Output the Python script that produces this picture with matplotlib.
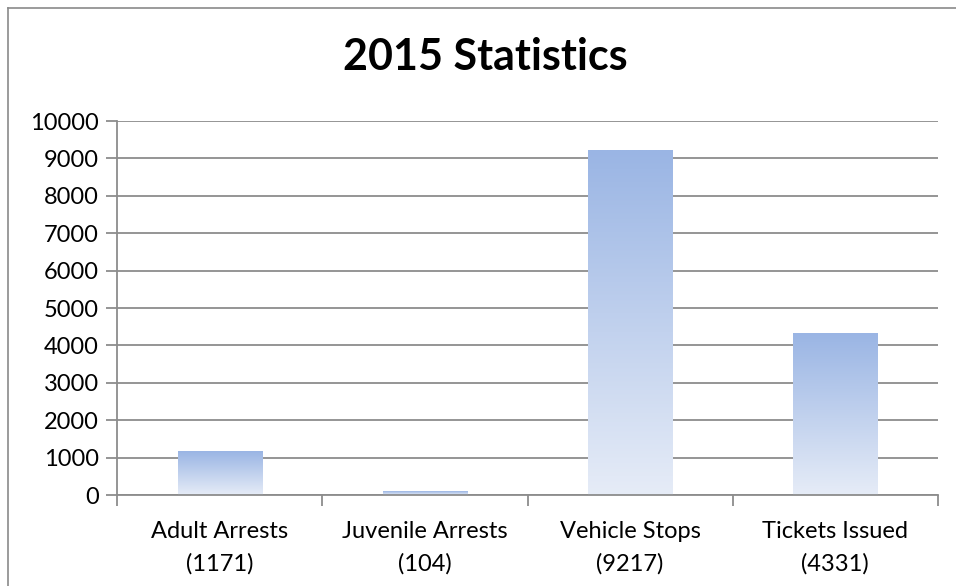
import numpy as np
import matplotlib
matplotlib.use('Agg')
import matplotlib.pyplot as plt
from matplotlib.colors import LinearSegmentedColormap
from matplotlib.lines import Line2D

# ── data ──────────────────────────────────────────────────────────────
categories = ['Adult Arrests', 'Juvenile Arrests', 'Vehicle Stops', 'Tickets Issued']
values = [1171, 104, 9217, 4331]
y_ticks = list(range(0, 10001, 1000))
title = '2015 Statistics'

# ── style ─────────────────────────────────────────────────────────────
TOP = '#9AB5E4'
BOTTOM = '#E6ECF7'
GRID = '#8C8C8C'
FONT = ['Lato', 'DejaVu Sans']

plt.rcParams.update({
    'font.family': FONT,
    'font.size': 17,
})

W, H = 956, 586
fig = plt.figure(figsize=(W / 100, H / 100), dpi=100)
ax = fig.add_axes([117 / W, 1 - 495 / H, (938 - 117) / W, (495 - 121) / H])

# each bar fades from dark blue at its top to pale at its base
grad = LinearSegmentedColormap.from_list('bar', [BOTTOM, TOP])
gimg = np.linspace(0, 1, 256).reshape(-1, 1)

x = np.arange(len(categories))
bw = 0.41
for xi, v in zip(x, values):
    ax.imshow(gimg, cmap=grad, origin='lower', aspect='auto',
              extent=(xi - bw / 2, xi + bw / 2, 0, v), zorder=3,
              interpolation='bilinear')

ax.set_xlim(-0.5, len(categories) - 0.5)
ax.set_ylim(0, 10000)
ax.set_yticks(y_ticks)
ax.set_yticklabels([str(t) for t in y_ticks])
ax.yaxis.grid(True, color=GRID, lw=1.3, zorder=1)
ax.set_axisbelow(True)

ax.set_xticks(x)
ax.set_xticklabels([f'{c}\n({v})' for c, v in zip(categories, values)],
                   linespacing=1.6)
ax.tick_params(axis='x', length=0, pad=19)
ax.set_xticks(np.arange(len(categories) + 1) - 0.5, minor=True)
ax.tick_params(axis='x', which='minor', length=8, width=1.3, color=GRID, direction='out')
ax.tick_params(axis='y', length=8, width=1.3, color=GRID, direction='out', pad=5)

for s in ['top', 'right']:
    ax.spines[s].set_visible(False)
for s in ['left', 'bottom']:
    ax.spines[s].set_color(GRID)
    ax.spines[s].set_linewidth(1.3)
    ax.spines[s].set_zorder(4)

# chart border (Excel chart area)
fig.add_artist(Line2D([7.5 / W, 7.5 / W], [0, 1 - 8 / H], color='#8A8A8A', lw=1.2))
fig.add_artist(Line2D([7.5 / W, 1], [1 - 8 / H, 1 - 8 / H], color='#8A8A8A', lw=1.2))

fig.text(485 / W, 1 - 57 / H, title, ha='center', va='center',
         fontsize=31, fontweight='bold', family=FONT)

fig.savefig('out.png', dpi=100)
